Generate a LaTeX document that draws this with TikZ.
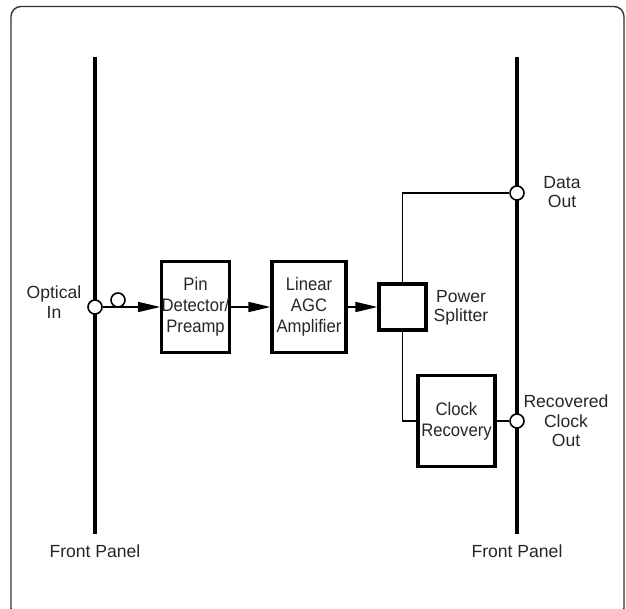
\documentclass[tikz,border=0pt]{standalone}
\usepackage{fontspec}
\setmainfont{Liberation Sans}
\newfontfamily\narrowfont{Liberation Sans}[FakeStretch=0.92]
\usetikzlibrary{arrows.meta}

\begin{document}
\begin{tikzpicture}[x=0.2mm, y=-0.2mm, font=\fontsize{10}{11}\selectfont,
  >={Triangle[length=12.5pt, width=5.7pt]},
  blk/.style={draw, line width=1.8pt, fill=white, align=center, inner sep=0pt,
              text=black!85, minimum height=18.2mm,
              font=\narrowfont\fontsize{10.3}{12}\selectfont},
  port/.style={circle, draw, line width=0.9pt, fill=white, inner sep=0pt, minimum size=2.8mm},
  lbl/.style={align=center, text=black!85},
  wire/.style={line width=0.85pt},
  panel/.style={line width=1.8pt}]
\useasboundingbox (0,0) rectangle (626,609);
\clip (0,0) rectangle (626,609);
% frame
\draw[black!80, line width=0.8pt, rounded corners=2mm] (11,6.5) rectangle (624,618);
% front panels
\coordinate (ltop) at (95,57); \coordinate (lbot) at (95,534);
\coordinate (rtop) at (517,57); \coordinate (rbot) at (517,534);
\draw[panel] (ltop) -- (lbot);
\draw[panel] (rtop) -- (rbot);
\node[lbl] (lfp) at (95,551) {Front Panel};
\node[lbl] (rfp) at (517,551) {Front Panel};
% input side
\node[port] (optin) at (95,307) {};
\node[lbl] (optlbl) at (54,302) {Optical\\In};
\node[blk, minimum width=13.4mm] (pin) at (195.5,307) {Pin\\Detector/\\Preamp};
\node[blk, minimum width=14.8mm] (agc) at (309,307) {Linear\\AGC\\Amplifier};
\node[blk, minimum width=9.4mm, minimum height=9.2mm] (split) at (402.5,307) {};
\node[lbl] (splbl) at (461,308) {Power\\Splitter};
\draw[wire, ->] (optin) -- (pin);
\node[port] (fiber) at (118,300) {};
\draw[wire, ->] (pin) -- (agc); \draw[wire, ->] (agc) -- (split);
% outputs
\node[blk, minimum width=15.4mm] (clk) at (456.5,421) {Clock\\Recovery};
\node[port] (dout) at (517,193) {};
\node[port] (cout) at (517,421) {};
\node[lbl] (doutlbl) at (562,192) {Data\\Out};
\node[lbl] (coutlbl) at (566,421) {Recovered\\Clock\\Out};
\draw[wire] (split.north) |- (dout);
\draw[wire] (split.south) |- (clk.west);
\draw[wire] (clk) -- (cout);
\end{tikzpicture}
\end{document}
